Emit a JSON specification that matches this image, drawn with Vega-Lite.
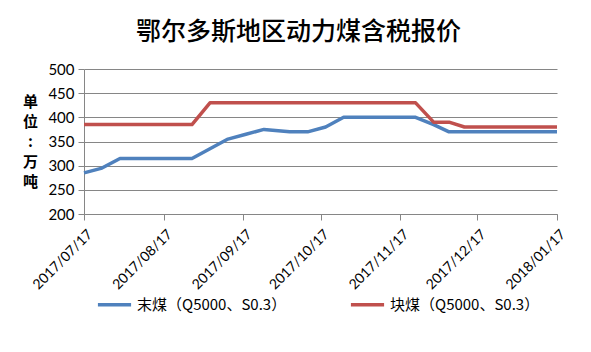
{
  "$schema": "https://vega.github.io/schema/vega-lite/v6.json",
  "autosize": {"type": "none"},
  "width": 473,
  "height": 145,
  "padding": {"left": 84, "top": 69, "right": 34, "bottom": 138},
  "background": "white",
  "title": {
    "text": "鄂尔多斯地区动力煤含税报价",
    "font": "Noto Sans CJK SC",
    "fontSize": 25,
    "fontWeight": 500,
    "color": "#000000",
    "anchor": "middle",
    "dx": -22,
    "offset": 17
  },
  "data": {
    "values": [
      {"date": "2017/07/17", "type": "末煤（Q5000、S0.3）", "price": 285},
      {"date": "2017/07/24", "type": "末煤（Q5000、S0.3）", "price": 295},
      {"date": "2017/07/31", "type": "末煤（Q5000、S0.3）", "price": 315},
      {"date": "2017/08/07", "type": "末煤（Q5000、S0.3）", "price": 315},
      {"date": "2017/08/14", "type": "末煤（Q5000、S0.3）", "price": 315},
      {"date": "2017/08/21", "type": "末煤（Q5000、S0.3）", "price": 315},
      {"date": "2017/08/28", "type": "末煤（Q5000、S0.3）", "price": 315},
      {"date": "2017/09/04", "type": "末煤（Q5000、S0.3）", "price": 335},
      {"date": "2017/09/11", "type": "末煤（Q5000、S0.3）", "price": 355},
      {"date": "2017/09/18", "type": "末煤（Q5000、S0.3）", "price": 365},
      {"date": "2017/09/25", "type": "末煤（Q5000、S0.3）", "price": 375},
      {"date": "2017/10/05", "type": "末煤（Q5000、S0.3）", "price": 370},
      {"date": "2017/10/12", "type": "末煤（Q5000、S0.3）", "price": 370},
      {"date": "2017/10/19", "type": "末煤（Q5000、S0.3）", "price": 380},
      {"date": "2017/10/26", "type": "末煤（Q5000、S0.3）", "price": 400},
      {"date": "2017/11/02", "type": "末煤（Q5000、S0.3）", "price": 400},
      {"date": "2017/11/09", "type": "末煤（Q5000、S0.3）", "price": 400},
      {"date": "2017/11/16", "type": "末煤（Q5000、S0.3）", "price": 400},
      {"date": "2017/11/23", "type": "末煤（Q5000、S0.3）", "price": 400},
      {"date": "2017/11/30", "type": "末煤（Q5000、S0.3）", "price": 385},
      {"date": "2017/12/06", "type": "末煤（Q5000、S0.3）", "price": 370},
      {"date": "2017/12/12", "type": "末煤（Q5000、S0.3）", "price": 370},
      {"date": "2017/12/20", "type": "末煤（Q5000、S0.3）", "price": 370},
      {"date": "2017/12/28", "type": "末煤（Q5000、S0.3）", "price": 370},
      {"date": "2018/01/05", "type": "末煤（Q5000、S0.3）", "price": 370},
      {"date": "2018/01/11", "type": "末煤（Q5000、S0.3）", "price": 370},
      {"date": "2018/01/17", "type": "末煤（Q5000、S0.3）", "price": 370},
      {"date": "2017/07/17", "type": "块煤（Q5000、S0.3）", "price": 385},
      {"date": "2017/07/24", "type": "块煤（Q5000、S0.3）", "price": 385},
      {"date": "2017/07/31", "type": "块煤（Q5000、S0.3）", "price": 385},
      {"date": "2017/08/07", "type": "块煤（Q5000、S0.3）", "price": 385},
      {"date": "2017/08/14", "type": "块煤（Q5000、S0.3）", "price": 385},
      {"date": "2017/08/21", "type": "块煤（Q5000、S0.3）", "price": 385},
      {"date": "2017/08/28", "type": "块煤（Q5000、S0.3）", "price": 385},
      {"date": "2017/09/04", "type": "块煤（Q5000、S0.3）", "price": 430},
      {"date": "2017/09/11", "type": "块煤（Q5000、S0.3）", "price": 430},
      {"date": "2017/09/18", "type": "块煤（Q5000、S0.3）", "price": 430},
      {"date": "2017/09/25", "type": "块煤（Q5000、S0.3）", "price": 430},
      {"date": "2017/10/05", "type": "块煤（Q5000、S0.3）", "price": 430},
      {"date": "2017/10/12", "type": "块煤（Q5000、S0.3）", "price": 430},
      {"date": "2017/10/19", "type": "块煤（Q5000、S0.3）", "price": 430},
      {"date": "2017/10/26", "type": "块煤（Q5000、S0.3）", "price": 430},
      {"date": "2017/11/02", "type": "块煤（Q5000、S0.3）", "price": 430},
      {"date": "2017/11/09", "type": "块煤（Q5000、S0.3）", "price": 430},
      {"date": "2017/11/16", "type": "块煤（Q5000、S0.3）", "price": 430},
      {"date": "2017/11/23", "type": "块煤（Q5000、S0.3）", "price": 430},
      {"date": "2017/11/30", "type": "块煤（Q5000、S0.3）", "price": 390},
      {"date": "2017/12/06", "type": "块煤（Q5000、S0.3）", "price": 390},
      {"date": "2017/12/12", "type": "块煤（Q5000、S0.3）", "price": 380},
      {"date": "2017/12/20", "type": "块煤（Q5000、S0.3）", "price": 380},
      {"date": "2017/12/28", "type": "块煤（Q5000、S0.3）", "price": 380},
      {"date": "2018/01/05", "type": "块煤（Q5000、S0.3）", "price": 380},
      {"date": "2018/01/11", "type": "块煤（Q5000、S0.3）", "price": 380},
      {"date": "2018/01/17", "type": "块煤（Q5000、S0.3）", "price": 380}
    ]
  },
  "mark": {"type": "line", "strokeWidth": 3.5, "strokeJoin": "round", "strokeCap": "butt"},
  "encoding": {
    "x": {
      "field": "date",
      "type": "temporal",
      "scale": {
        "domain": [{"year": 2017, "month": 7, "date": 17}, {"year": 2018, "month": 1, "date": 17}],
        "nice": false
      },
      "axis": {
        "title": null,
        "grid": false,
        "values": [
          {"year": 2017, "month": 7, "date": 17},
          {"year": 2017, "month": 8, "date": 17},
          {"year": 2017, "month": 9, "date": 17},
          {"year": 2017, "month": 10, "date": 17},
          {"year": 2017, "month": 11, "date": 17},
          {"year": 2017, "month": 12, "date": 17},
          {"year": 2018, "month": 1, "date": 17}
        ],
        "format": "%Y/%m/%d",
        "labelAngle": -45,
        "labelAlign": "right",
        "labelBaseline": "middle",
        "labelOffset": 6,
        "labelPadding": 12,
        "labelFont": "Lato",
        "labelFontSize": 14,
        "labelColor": "#000000",
        "labelOverlap": false,
        "labelFlush": false,
        "domainColor": "#868686",
        "tickColor": "#868686",
        "tickSize": 6
      }
    },
    "y": {
      "field": "price",
      "type": "quantitative",
      "scale": {"domain": [200, 500], "nice": false, "zero": false},
      "axis": {
        "title": ["单", "位", ":", "万", "吨"],
        "titleAngle": 0,
        "titleFont": "Noto Sans CJK SC",
        "titleFontSize": 15,
        "titleFontWeight": "bold",
        "titleColor": "#000000",
        "titleLineHeight": 20,
        "titleAlign": "center",
        "titleBaseline": "top",
        "titleX": -54,
        "titleY": 25,
        "values": [200, 250, 300, 350, 400, 450, 500],
        "grid": true,
        "gridColor": "#868686",
        "gridWidth": 1,
        "domainColor": "#868686",
        "tickColor": "#868686",
        "tickSize": 6,
        "labelPadding": 4,
        "labelFont": "Lato",
        "labelFontSize": 15,
        "labelColor": "#000000"
      }
    },
    "color": {
      "field": "type",
      "type": "nominal",
      "scale": {
        "domain": ["末煤（Q5000、S0.3）", "块煤（Q5000、S0.3）"],
        "range": ["#4F81BD", "#C0504D"]
      },
      "legend": {
        "title": null,
        "orient": "none",
        "direction": "horizontal",
        "columns": 2,
        "legendX": 12,
        "legendY": 217,
        "symbolType": "stroke",
        "symbolSize": 1100,
        "symbolStrokeWidth": 3.5,
        "labelFont": "Noto Sans CJK SC",
        "labelFontSize": 15,
        "labelColor": "#000000",
        "labelLimit": 300,
        "columnPadding": 56
      }
    }
  },
  "config": {
    "view": {"stroke": null}
  }
}
